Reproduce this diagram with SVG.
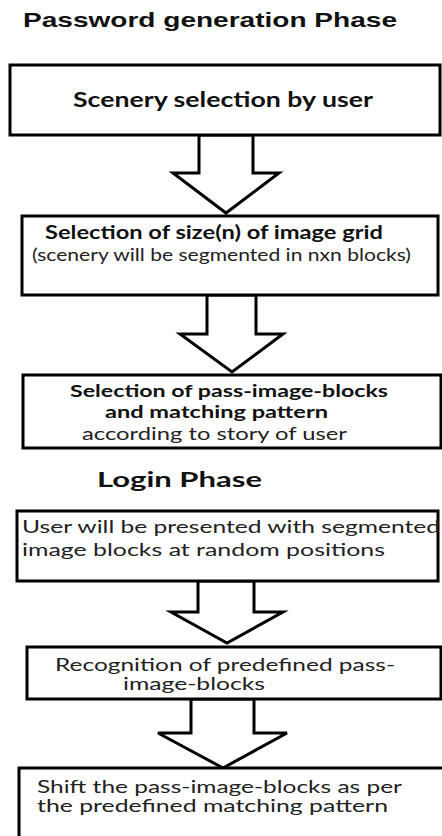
<svg xmlns="http://www.w3.org/2000/svg" width="442" height="836" viewBox="0 0 442 836">
<style>
.box{fill:#fff;stroke:#000;stroke-width:3}
.arr{fill:#fff;stroke:#000;stroke-width:3;stroke-linejoin:miter}
.title{font-family:"Liberation Sans",Arial,sans-serif;font-weight:bold;font-size:21px;fill:#111}
.h{font-family:Lato,"Open Sans",sans-serif;font-weight:bold;fill:#111}
.t{font-family:Lato,"Open Sans",sans-serif;fill:#222}
</style>
<rect width="442" height="836" fill="#fff"/>
<text class="title" x="23" y="27" textLength="374" lengthAdjust="spacingAndGlyphs">Password generation Phase</text>
<g id="connectors">
<polygon class="arr" points="199,135 199,173 173,173 226,213 279,173 253,173 253,135"/>
<polygon class="arr" points="207,295 207,334 180,334 232,372 283,334 256,334 256,295"/>
<polygon class="arr" points="198,581 198,612 171,612 227,643 283,612 254,612 254,581"/>
<polygon class="arr" points="191,699 191,733 158,733 223,768 287,733 254,733 254,699"/>
</g>
<g id="n1">
<rect class="box" x="10" y="65" width="430" height="70"/>
<text class="h" x="73" y="107" font-size="20" textLength="300" lengthAdjust="spacingAndGlyphs">Scenery selection by user</text>
</g>
<g id="n2">
<rect class="box" x="22" y="216" width="416" height="79"/>
<text class="h" x="45" y="239" font-size="18" textLength="338" lengthAdjust="spacingAndGlyphs">Selection of size(n) of image grid</text>
<text class="t" x="32" y="261" font-size="16.5" textLength="379" lengthAdjust="spacingAndGlyphs">(scenery will be segmented in nxn blocks)</text>
</g>
<g id="n3">
<rect class="box" x="23" y="375" width="418" height="73"/>
<text class="h" x="70" y="397" font-size="17" textLength="318" lengthAdjust="spacingAndGlyphs">Selection of pass-image-blocks</text>
<text class="h" x="105" y="418" font-size="17" textLength="223" lengthAdjust="spacingAndGlyphs">and matching pattern</text>
<text class="t" x="82" y="440" font-size="18" textLength="265" lengthAdjust="spacingAndGlyphs">according to story of user</text>
</g>
<g id="login-title">
<text class="h" x="97" y="487" font-size="21" textLength="165" lengthAdjust="spacingAndGlyphs">Login Phase</text>
</g>
<g id="n4">
<rect class="box" x="17" y="511" width="421" height="70"/>
<text class="t" x="22" y="533" font-size="16.5" textLength="418" lengthAdjust="spacingAndGlyphs">User will be presented with segmented</text>
<text class="t" x="22" y="556" font-size="16.5" textLength="363" lengthAdjust="spacingAndGlyphs">image blocks at random positions</text>
</g>
<g id="n5">
<rect class="box" x="27" y="647" width="414" height="52"/>
<text class="t" x="55" y="671" font-size="16.5" textLength="340" lengthAdjust="spacingAndGlyphs">Recognition of predefined pass-</text>
<text class="t" x="123" y="690" font-size="16.5" textLength="142" lengthAdjust="spacingAndGlyphs">image-blocks</text>
</g>
<g id="n6">
<rect class="box" x="19" y="768" width="430" height="80"/>
<text class="t" x="37" y="793" font-size="16.5" textLength="365" lengthAdjust="spacingAndGlyphs">Shift the pass-image-blocks as per</text>
<text class="t" x="37" y="812" font-size="16.5" textLength="351" lengthAdjust="spacingAndGlyphs">the predefined matching pattern</text>
</g>
</svg>
